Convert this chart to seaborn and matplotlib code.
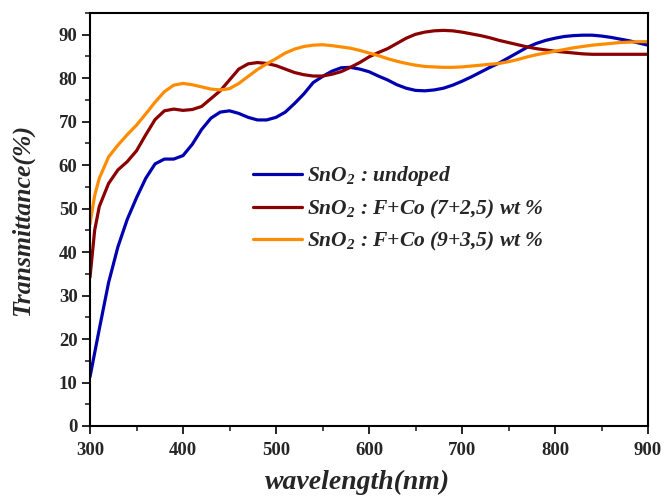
import matplotlib
matplotlib.use("Agg")
import matplotlib.pyplot as plt
from matplotlib.ticker import MultipleLocator
import pandas as pd
import seaborn as sns

# Optical transmittance spectra of SnO2 thin films
wavelength = [300, 305] + list(range(310, 901, 10))

t_undoped = [11.3, 16.8, 22.3, 33.0, 41.2, 47.5, 52.5, 57.0, 60.3, 61.4, 61.4,
             62.2, 64.8, 68.2, 70.8, 72.2, 72.5, 71.9, 71.0, 70.4, 70.4,
             71.0, 72.2, 74.2, 76.4, 79.0, 80.4, 81.6, 82.4, 82.5, 82.1,
             81.5, 80.5, 79.6, 78.5, 77.7, 77.2, 77.1, 77.3, 77.7, 78.4,
             79.3, 80.3, 81.4, 82.5, 83.5, 84.7, 85.9, 87.1, 88.0, 88.7,
             89.2, 89.6, 89.8, 89.9, 89.9, 89.7, 89.4, 89.0, 88.6, 88.1,
             87.6]

t_fco_7_25 = [34.2, 45.0, 50.5, 55.8, 58.9, 60.8, 63.3, 67.0, 70.5, 72.5, 72.9,
              72.6, 72.8, 73.5, 75.3, 77.1, 79.6, 82.1, 83.3, 83.6, 83.4,
              82.9, 82.1, 81.3, 80.8, 80.5, 80.5, 80.9, 81.5, 82.5, 83.6,
              84.9, 85.9, 86.8, 88.0, 89.2, 90.1, 90.6, 90.9, 91.0, 90.9,
              90.6, 90.2, 89.8, 89.3, 88.7, 88.2, 87.7, 87.2, 86.8, 86.5,
              86.2, 86.0, 85.8, 85.6, 85.5, 85.5, 85.5, 85.5, 85.5, 85.5,
              85.5]

t_fco_9_35 = [46.5, 53.0, 57.0, 61.9, 64.6, 67.0, 69.2, 71.8, 74.5, 76.9, 78.4,
              78.8, 78.5, 78.0, 77.5, 77.3, 77.6, 78.8, 80.4, 82.0, 83.3,
              84.5, 85.8, 86.7, 87.3, 87.6, 87.7, 87.5, 87.2, 86.9, 86.4,
              85.8, 85.2, 84.5, 83.9, 83.4, 83.0, 82.7, 82.6, 82.5, 82.5,
              82.6, 82.8, 83.0, 83.2, 83.4, 83.8, 84.3, 84.9, 85.4, 85.8,
              86.2, 86.6, 87.0, 87.3, 87.6, 87.8, 88.0, 88.2, 88.3, 88.4,
              88.4]

labels = [r"SnO$_{2}$ : undoped",
          r"SnO$_{2}$ : F+Co (7+2,5) wt %",
          r"SnO$_{2}$ : F+Co (9+3,5) wt %"]
colors = ["#0000b0", "#8b0000", "#ff8c00"]

frames = []
for lab, vals in zip(labels, [t_undoped, t_fco_7_25, t_fco_9_35]):
    frames.append(pd.DataFrame({"wavelength": wavelength,
                                "transmittance": vals,
                                "sample": lab}))
df = pd.concat(frames, ignore_index=True)

sns.set_style("white")
plt.rcParams["font.family"] = ["Liberation Serif", "DejaVu Serif"]
plt.rcParams["mathtext.fontset"] = "custom"
plt.rcParams["mathtext.rm"] = "Liberation Serif:italic:bold"
plt.rcParams["mathtext.it"] = "Liberation Serif:italic:bold"
plt.rcParams["mathtext.bf"] = "Liberation Serif:italic:bold"
plt.rcParams["mathtext.default"] = "regular"

fig = plt.figure(figsize=(6.65, 5.04), dpi=100)
ax = fig.add_axes([90 / 665, 1 - 426 / 504, 558 / 665, 413 / 504])

sns.lineplot(data=df, x="wavelength", y="transmittance", hue="sample",
             palette=dict(zip(labels, colors)), hue_order=labels,
             estimator=None, sort=False, linewidth=2.3, ax=ax)

ax.set_xlim(300, 900)
ax.set_ylim(0, 95)
ax.xaxis.set_major_locator(MultipleLocator(100))
ax.xaxis.set_minor_locator(MultipleLocator(50))
ax.yaxis.set_major_locator(MultipleLocator(10))
ax.yaxis.set_minor_locator(MultipleLocator(5))
ax.tick_params(which="major", direction="out", length=6, width=1.4,
               labelsize=13.5, pad=3, top=False, right=False,
               bottom=True, left=True)
ax.tick_params(axis="x", which="major", pad=5.5)
ax.tick_params(which="minor", direction="out", length=3.5, width=1.2,
               top=False, right=False, bottom=True, left=True)
for t in ax.get_xticklabels() + ax.get_yticklabels():
    t.set_fontweight("bold")
for sp in ax.spines.values():
    sp.set_linewidth(1.5)
    sp.set_color("black")

ax.set_xlabel("wavelength(nm)", fontsize=20, fontweight="bold",
              fontstyle="italic")
ax.set_ylabel("Transmittance(%)", fontsize=18.5, fontweight="bold",
              fontstyle="italic")
ax.xaxis.set_label_coords(0.48, -0.105, transform=ax.transAxes)
ax.yaxis.set_label_coords(-0.10, 0.5, transform=ax.transAxes)

leg = ax.legend(loc="center left", bbox_to_anchor=(0.292, 0.526),
                frameon=False, fontsize=15.5, handlelength=2.3,
                handletextpad=0.23, labelspacing=0.45, borderaxespad=0,
                borderpad=0)
for t in leg.get_texts():
    t.set_fontweight("bold")
    t.set_fontstyle("italic")

fig.savefig("out.png", dpi=100)
